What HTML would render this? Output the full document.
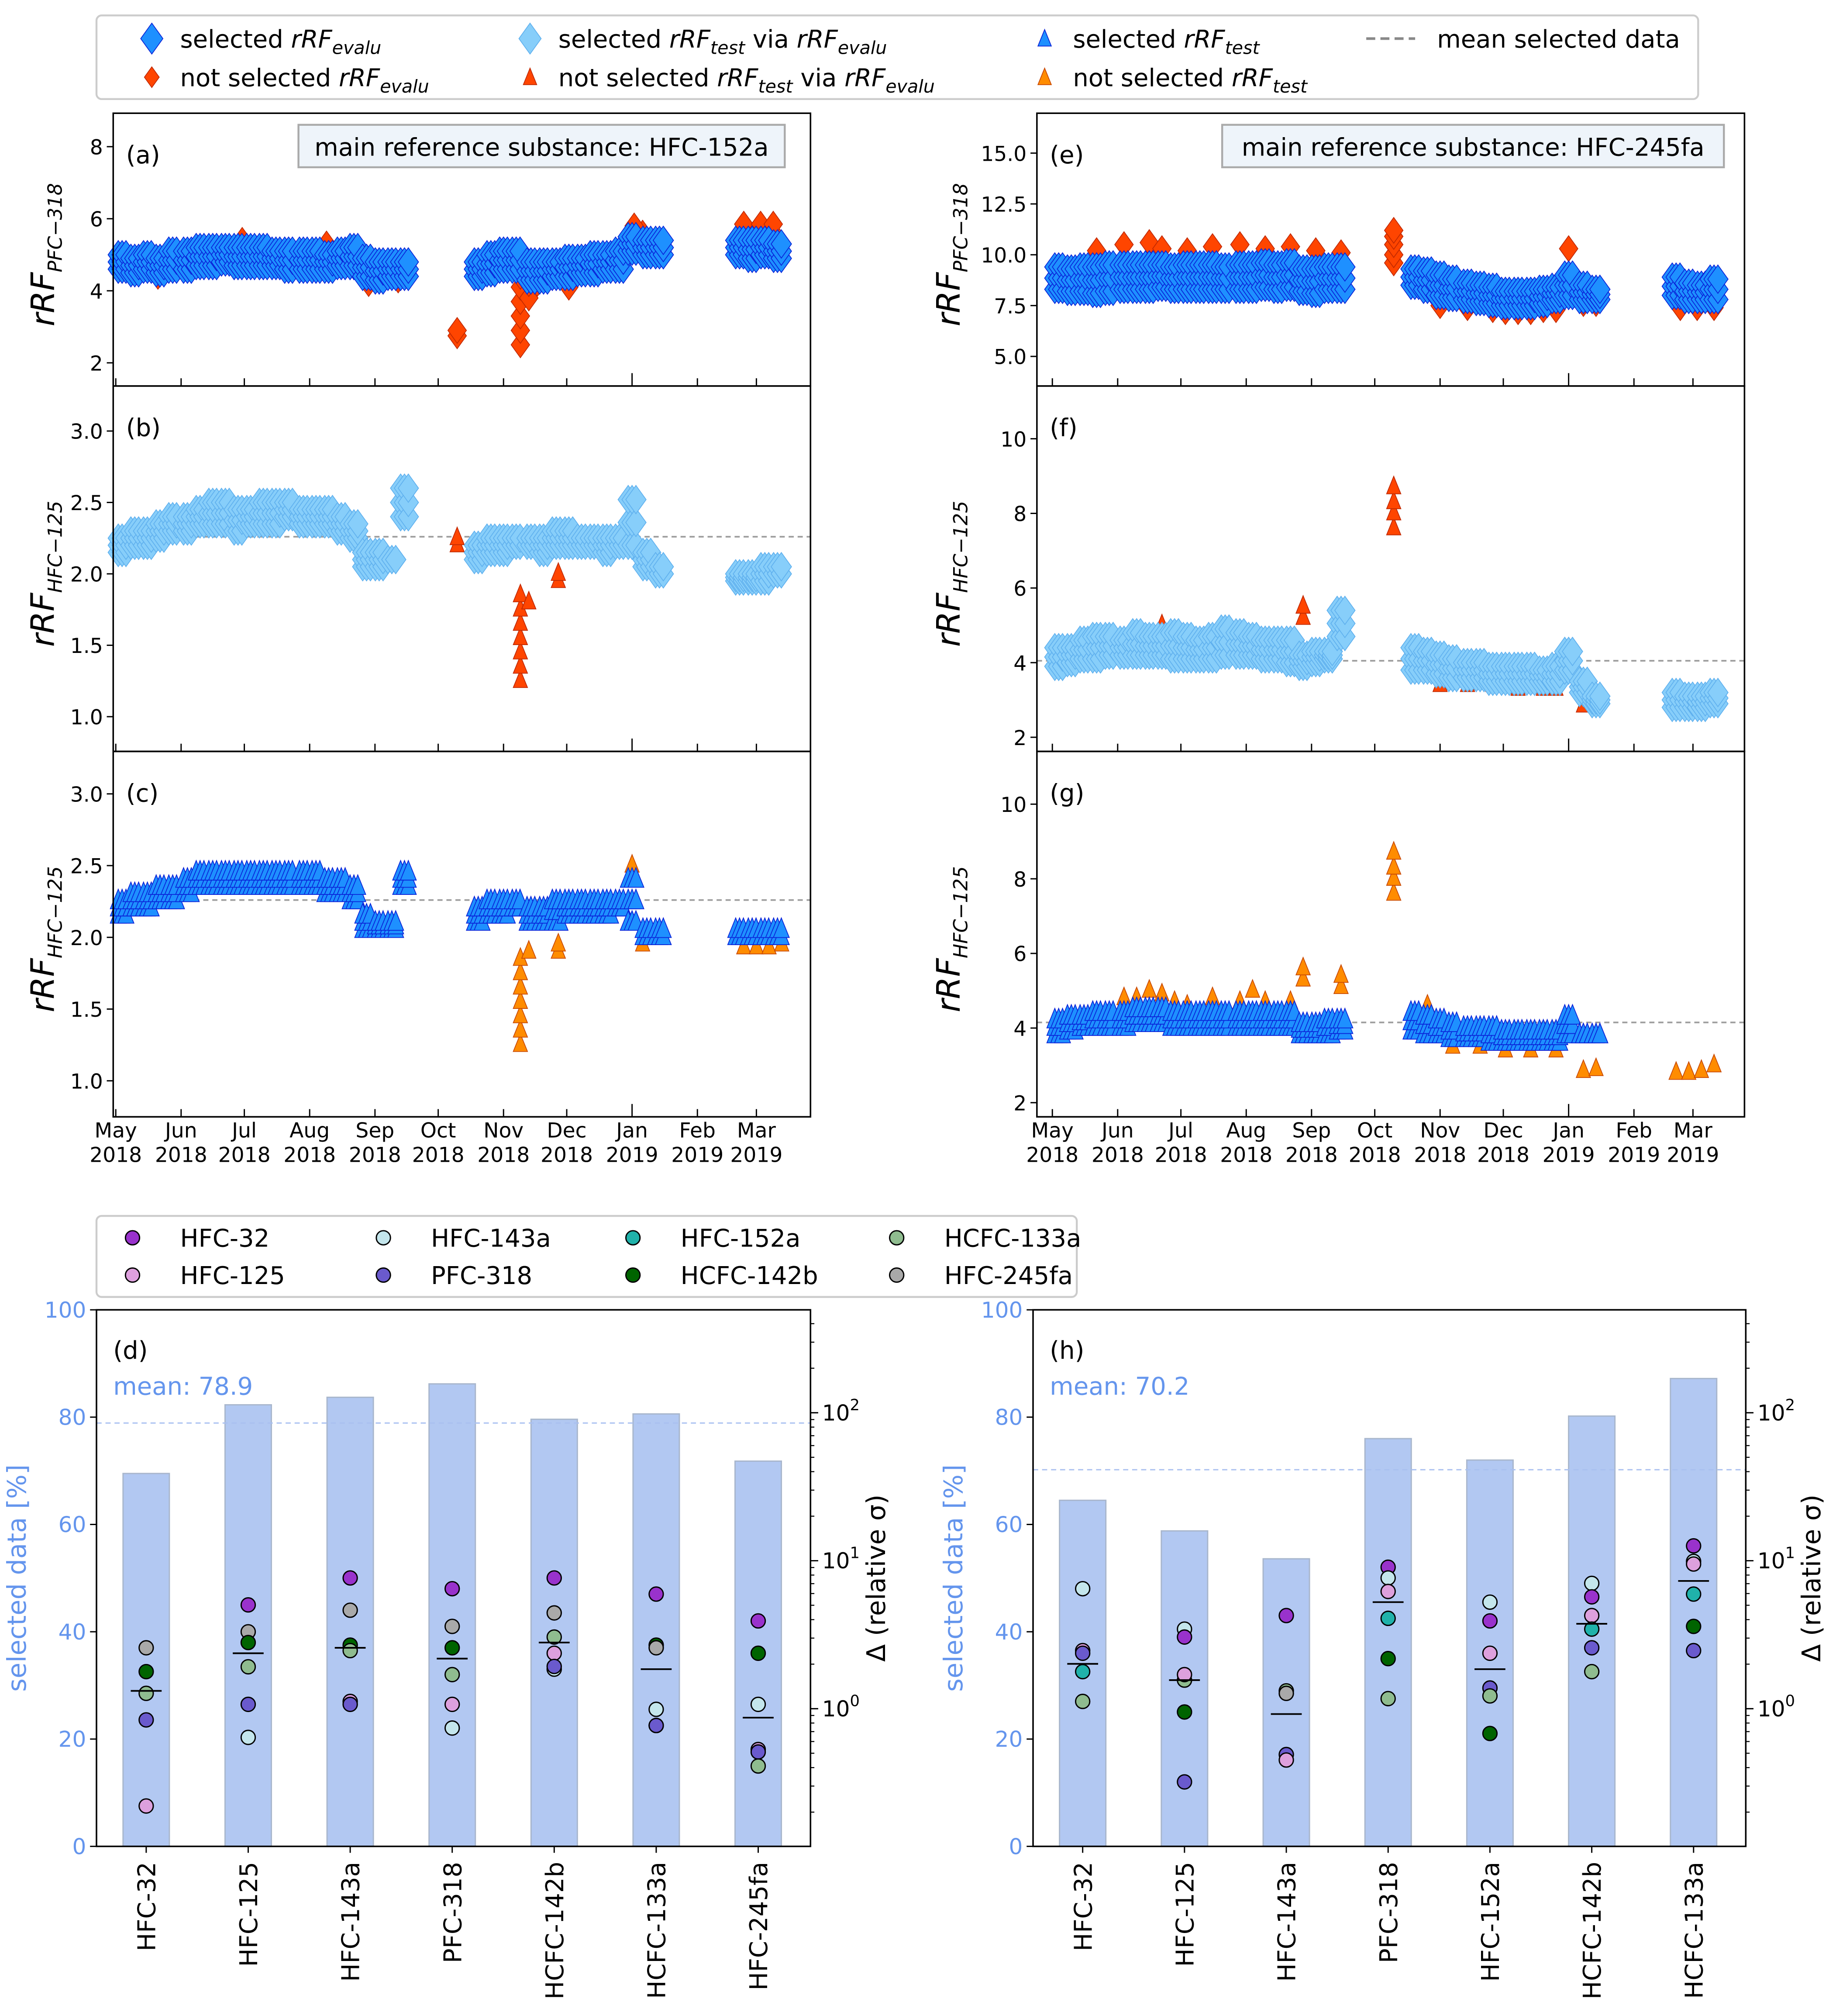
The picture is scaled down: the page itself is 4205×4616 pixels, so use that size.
<!DOCTYPE html>
<html><head><meta charset="utf-8"><style>
html,body{margin:0;padding:0;background:#fff}
svg{display:block}
text{font-family:"DejaVu Sans","Liberation Sans",sans-serif}
</style></head><body>
<svg id="fig" xmlns="http://www.w3.org/2000/svg" width="4205" height="4616" viewBox="0 0 1420 1559" preserveAspectRatio="none">
<rect x="0" y="0" width="1420" height="1559" fill="#fff"/>
<g id="layer" transform="scale(0.995)"></g>
</svg>
<script>
// ---------- data: top panels (day = days since 1 May 2018) ----------
const blkDays1=[3,9,15,21,27,34,40,46,52,58,64,70,76,82,89,95,101,107,113,119,125,131,137];
const blkDays2=[172,178,184,190,197,203,209,215,221,227,233,239,245,252,258];
const marDays=[296,302,308,314];
const monthLabels=["May","Jun","Jul","Aug","Sep","Oct","Nov","Dec","Jan","Feb","Mar"];
const yearLabels=["2018","2018","2018","2018","2018","2018","2018","2018","2019","2019","2019"];
const monthDays=[0,31,61,92,123,153,184,214,245,276,304];

// (a)
const aSel1=[[4.6,5.0],[4.5,4.9],[4.6,5.0],[4.5,4.9],[4.6,5.1],[4.6,5.1],[4.7,5.2],[4.7,5.2],[4.8,5.2],[4.7,5.2],[4.7,5.2],[4.7,5.2],[4.7,5.1],[4.6,5.1],[4.6,5.1],[4.6,5.1],[4.6,5.0],[4.7,5.1],[4.7,5.2],[4.4,4.9],[4.3,4.8],[4.4,4.8],[4.4,4.8]];
const aSel2=[[4.4,4.8],[4.5,5.0],[4.6,5.1],[4.6,5.1],[4.3,4.8],[4.3,4.8],[4.4,4.8],[4.4,4.9],[4.5,4.9],[4.5,5.0],[4.6,5.0],[4.6,5.1],[5.1,5.5],[5.0,5.4],[5.0,5.4]];
const aSelM=[[5.0,5.4],[4.9,5.4],[5.0,5.4],[4.9,5.3]];
const aNotDays=[162,162,192,192,192,192,192,192,196,196,200,20,120,134,60,100,215,250,246,298,298,306,306,312,312];
const aNotVals=[2.75,2.9,2.5,2.9,3.3,3.7,4.1,4.4,3.8,4.2,4.2,4.4,4.2,4.3,5.4,5.3,4.1,5.6,5.8,5.6,5.85,5.7,5.85,5.6,5.85];
// (b)
const bSel1=[[2.15,2.25],[2.2,2.3],[2.2,2.3],[2.25,2.35],[2.3,2.4],[2.3,2.4],[2.35,2.45],[2.35,2.5],[2.35,2.5],[2.3,2.45],[2.35,2.45],[2.35,2.5],[2.35,2.5],[2.4,2.5],[2.35,2.45],[2.35,2.45],[2.35,2.45],[2.3,2.4],[2.25,2.35],[2.05,2.15],[2.05,2.15],[2.1,2.1],[2.4,2.6]];
const bSel2=[[2.1,2.2],[2.15,2.25],[2.15,2.25],[2.2,2.25],[2.2,2.25],[2.15,2.25],[2.2,2.3],[2.2,2.3],[2.2,2.25],[2.2,2.25],[2.15,2.25],[2.2,2.25],[2.2,2.52],[2.05,2.15],[2.0,2.05]];
const bSelM=[[1.95,2.0],[1.95,2.0],[1.95,2.05],[2.0,2.05]];
const bNotDays=[162,162,192,192,192,192,192,192,192,196,210,210];
const bNotVals=[2.2,2.25,1.25,1.35,1.45,1.55,1.65,1.75,1.85,1.8,1.95,2.0];
// (c)
const cSel1=[[2.15,2.25],[2.2,2.3],[2.2,2.3],[2.25,2.35],[2.25,2.35],[2.3,2.4],[2.35,2.45],[2.35,2.45],[2.35,2.45],[2.35,2.45],[2.35,2.45],[2.35,2.45],[2.35,2.45],[2.35,2.45],[2.35,2.45],[2.35,2.45],[2.3,2.4],[2.3,2.4],[2.25,2.35],[2.05,2.15],[2.05,2.1],[2.05,2.1],[2.35,2.45]];
const cSel2=[[2.1,2.2],[2.15,2.25],[2.15,2.25],[2.2,2.25],[2.1,2.2],[2.1,2.2],[2.1,2.25],[2.15,2.25],[2.15,2.25],[2.15,2.25],[2.15,2.25],[2.2,2.25],[2.1,2.4],[2.0,2.05],[2.0,2.05]];
const cSelM=[[2.0,2.05],[2.0,2.05],[2.0,2.05],[2.0,2.05]];
const cNotDays=[192,192,192,192,192,192,192,196,210,210,245,250,298,304,310,316];
const cNotVals=[1.25,1.35,1.45,1.55,1.65,1.75,1.85,1.9,1.9,1.95,2.5,1.95,1.93,1.93,1.93,1.95];
// (e)
const eSel1=[[8.3,9.4],[8.2,9.3],[8.2,9.4],[8.1,9.4],[8.2,9.5],[8.3,9.5],[8.3,9.5],[8.3,9.5],[8.4,9.5],[8.3,9.4],[8.3,9.5],[8.3,9.5],[8.3,9.5],[8.3,9.4],[8.3,9.5],[8.3,9.5],[8.4,9.6],[8.3,9.5],[8.4,9.6],[8.2,9.3],[8.1,9.3],[8.3,9.4],[8.3,9.4]];
const eSel2=[[8.5,9.3],[8.3,9.2],[8.0,9.0],[7.9,8.8],[7.8,8.6],[7.7,8.5],[7.6,8.4],[7.5,8.2],[7.5,8.2],[7.5,8.2],[7.6,8.3],[7.8,8.4],[8.0,9.0],[7.8,8.5],[7.8,8.3]];
const eSelM=[[8.0,8.9],[7.8,8.6],[7.8,8.5],[7.8,8.8]];
const eNotDays=[21,34,46,52,64,76,89,101,113,125,137,162,162,162,162,162,184,197,209,215,221,227,233,239,245,252,258,298,306,314];
const eNotVals=[10.2,10.5,10.6,10.3,10.2,10.4,10.5,10.3,10.4,10.2,10.1,9.6,10.0,10.5,10.9,11.2,7.5,7.4,7.3,7.2,7.2,7.2,7.3,7.3,10.3,7.6,7.6,7.4,7.4,7.4];
// (f)
const fSel1=[[3.9,4.4],[4.0,4.4],[4.1,4.6],[4.1,4.7],[4.2,4.7],[4.2,4.6],[4.2,4.8],[4.2,4.7],[4.2,4.7],[4.1,4.8],[4.1,4.7],[4.1,4.6],[4.1,4.7],[4.2,4.9],[4.2,4.8],[4.2,4.7],[4.1,4.6],[4.1,4.6],[4.0,4.6],[3.9,4.2],[4.0,4.3],[4.1,4.3],[4.7,5.4]];
const fSel2=[[3.8,4.4],[3.8,4.3],[3.7,4.2],[3.6,4.1],[3.6,4.0],[3.6,4.0],[3.5,3.9],[3.5,3.9],[3.5,3.9],[3.5,3.9],[3.5,3.8],[3.5,3.9],[3.8,4.3],[3.2,3.5],[2.9,3.1]];
const fSelM=[[2.8,3.2],[2.8,3.1],[2.8,3.1],[2.9,3.2]];
const fNotDays=[52,52,119,119,162,162,162,162,184,197,209,221,233,239,252,258,298,306];
const fNotVals=[4.9,5.0,5.2,5.5,7.6,8.0,8.3,8.7,3.4,3.4,3.4,3.3,3.3,3.3,2.85,2.85,2.75,2.75];
// (g)
const gSel1=[[3.8,4.2],[3.9,4.3],[4.0,4.3],[4.0,4.4],[4.0,4.4],[4.0,4.4],[4.1,4.5],[4.1,4.5],[4.1,4.5],[4.0,4.4],[4.0,4.4],[4.0,4.4],[4.0,4.4],[4.0,4.4],[4.0,4.4],[4.0,4.4],[4.0,4.4],[4.0,4.4],[4.0,4.4],[3.8,4.1],[3.8,4.1],[3.8,4.2],[3.9,4.2]];
const gSel2=[[3.9,4.4],[3.8,4.3],[3.8,4.2],[3.7,4.1],[3.7,4.0],[3.7,4.0],[3.6,4.0],[3.6,3.9],[3.6,3.9],[3.6,3.9],[3.6,3.9],[3.6,3.9],[3.8,4.3],[3.8,3.8],[3.8,3.8]];
const gSelM=[];
const gNotDays=[34,40,46,52,58,64,76,89,95,101,113,119,119,137,137,162,162,162,162,178,190,203,215,227,239,252,258,296,302,308,314];
const gNotVals=[4.8,4.8,5.0,4.9,4.7,4.6,4.8,4.7,5.0,4.7,4.7,5.3,5.6,5.1,5.4,7.6,8.0,8.3,8.7,4.6,3.5,3.5,3.4,3.4,3.4,2.85,2.9,2.8,2.8,2.85,3.0];

// ---------- data: bottom panels ----------
const dCats=["HFC-32","HFC-125","HFC-143a","PFC-318","HCFC-142b","HCFC-133a","HFC-245fa"];
const dBars=[69.5,82.3,83.7,86.2,79.6,80.6,71.8];
const dMean=78.9;
const hCats=["HFC-32","HFC-125","HFC-143a","PFC-318","HFC-152a","HCFC-142b","HCFC-133a"];
const hBars=[64.5,58.8,53.6,76.0,72.0,80.2,87.2];
const hMean=70.2;
const subst=["HFC-32","HFC-125","HFC-143a","PFC-318","HFC-152a","HCFC-142b","HCFC-133a","HFC-245fa"];
const substColors=["#9932cc","#dda0dd","#c4e6ec","#6a5acd","#20b2aa","#006400","#8fbc8f","#a9a9a9"];
// dots: [category index, substance index, delta]
const dDots=[[0,7,2.58],[0,5,1.78],[0,6,1.27],[0,3,0.84],[0,1,0.22],
[1,0,5.03],[1,7,3.31],[1,5,2.80],[1,6,1.92],[1,3,1.07],[1,2,0.64],
[2,0,7.65],[2,7,4.63],[2,5,2.69],[2,6,2.47],[2,1,1.12],[2,3,1.07],
[3,0,6.47],[3,7,3.60],[3,5,2.58],[3,6,1.70],[3,1,1.07],[3,2,0.74],
[4,0,7.65],[4,7,4.44],[4,6,3.05],[4,1,2.37],[4,2,1.85],[4,3,1.93],
[5,0,5.95],[5,5,2.69],[5,7,2.58],[5,2,0.99],[5,1,0.77],[5,3,0.77],
[6,0,3.92],[6,5,2.37],[6,2,1.07],[6,1,0.53],[6,3,0.51],[6,6,0.41]];
const dMeans=[1.32,2.37,2.58,2.18,2.80,1.85,0.87];
const hDots=[[0,2,6.47],[0,1,2.47],[0,3,2.37],[0,4,1.78],[0,6,1.12],
[1,2,3.45],[1,0,3.05],[1,6,1.56],[1,1,1.70],[1,5,0.95],[1,3,0.32],
[2,0,4.26],[2,6,1.32],[2,7,1.27],[2,3,0.49],[2,1,0.45],
[3,0,9.04],[3,2,7.65],[3,1,6.20],[3,4,4.08],[3,5,2.18],[3,6,1.17],
[4,2,5.25],[4,0,3.92],[4,1,2.37],[4,3,1.38],[4,6,1.22],[4,5,0.68],
[5,2,7.03],[5,1,4.26],[5,0,5.70],[5,4,3.45],[5,3,2.58],[5,6,1.78],
[6,0,12.6],[6,2,9.9],[6,1,9.5],[6,4,5.95],[6,5,3.60],[6,3,2.47]];
const hMeans=[2.01,1.56,0.92,5.25,1.85,3.75,7.3];

// ---------- drawing ----------
const NS="http://www.w3.org/2000/svg";
const L=document.getElementById('layer');
function mk(tag,attrs,parent){const e=document.createElementNS(NS,tag);for(const k in attrs)e.setAttribute(k,attrs[k]);(parent||L).appendChild(e);return e;}
function txt(x,y,s,size,opts,parent){opts=opts||{};const e=mk('text',{x:x,y:y,'font-size':size,fill:opts.fill||'#000','text-anchor':opts.anchor||'start'},parent);if(opts.rot)e.setAttribute('transform','rotate('+opts.rot+' '+x+' '+y+')');e.textContent=s;return e;}

const C={selE:['#1e90ff','#0a22d8'],notE:['#ff4500','#c02800'],selT:['#87cefa','#5fb0ee'],notT:['#ff8c00','#c84800']};
function diamond(cx,cy,r,c,g){return mk('path',{d:`M${cx} ${cy-r}L${cx+r*0.72} ${cy}L${cx} ${cy+r}L${cx-r*0.72} ${cy}Z`,fill:c[0],stroke:c[1],'stroke-width':0.6},g);}
function tri(cx,cy,r,c,g){return mk('path',{d:`M${cx} ${cy-r}L${cx+r*0.65} ${cy+r*0.6}L${cx-r*0.65} ${cy+r*0.6}Z`,fill:c[0],stroke:c[1],'stroke-width':0.6},g);}

const PX=[{x0:88,x1:630,dx:90},{x0:806,x1:1356,dx:818}];
const PY=[{y0:88,y1:300},{y0:300,y1:584},{y0:584,y1:868}];
const DPX=1.638;

function panel(col,row,label,yfun,ticks,ylabelSub,opts){
  const P=PX[col],R=PY[row];
  const g=mk('g',{});
  
  
  const xd=d=>P.dx+d*DPX;
  ticks.forEach(t=>{const y=yfun(t);mk('line',{x1:P.x0-5,y1:y,x2:P.x0,y2:y,stroke:'#000','stroke-width':1},g);
    const tl=txt(P.x0-8,y+6,String(opts.fmt?t.toFixed(opts.fmt):t),16,{anchor:'end'},g);
    });
  monthDays.forEach((d,i)=>{const x=xd(d);const len=(i===8)?10:6;mk('line',{x1:x,y1:R.y1,x2:x,y2:R.y1-len,stroke:'#000','stroke-width':1},g);});
  if(opts.mean!==undefined){const ml=mk('line',{x1:P.x0,x2:P.x1,y1:yfun(opts.mean),y2:yfun(opts.mean),stroke:'#a0a0a0','stroke-width':1.3,'stroke-dasharray':'4,3'},g);
    }
  const shape=opts.tri?tri:diamond;
  const nshape=(opts.tri||opts.triNot)?tri:diamond;
  opts.notDays.forEach((d,i)=>{const m=nshape(xd(d),yfun(opts.notVals[i]),(opts.tri||opts.triNot)?8.5:10,opts.notC,g);
    });
  [[blkDays1,opts.s1],[blkDays2,opts.s2],[marDays,opts.sm]].forEach(([days,vals])=>{
    vals.forEach((pr,i)=>{
      const d=days[i];
      [-3,0,3].forEach(off=>{
        [pr[0],(pr[0]+pr[1])/2,pr[1]].forEach((v,k)=>{
          if(k===1&&pr[1]-pr[0]<0.05)return;
          const m=shape(xd(d)+off,yfun(v),opts.tri?9.5:11,opts.selC,g);
          });
      });
    });
  });
  mk('rect',{x:P.x0,y:R.y0,width:P.x1-P.x0,height:R.y1-R.y0,fill:'none',stroke:'#000','stroke-width':1.2},g);
  const pl=txt(P.x0+10,R.y0+39,'('+label+')',19,{},g);
  const cx=col===0?42:746, cy=(R.y0+R.y1)/2+4;
  const yl=mk('text',{x:cx,y:cy,'font-size':25,'text-anchor':'middle',transform:`rotate(-90 ${cx} ${cy})`,'font-style':'italic'},g);
  
  const t1=mk('tspan',{},yl);t1.textContent='rRF';
  const t2=mk('tspan',{'font-size':15,dy:6},yl);t2.textContent=ylabelSub;
  if(opts.box){const b=mk('rect',{x:opts.box[0],y:R.y0+9,width:opts.box[1],height:33,fill:'#eef4fa',stroke:'#aaa','stroke-width':1.5},g);
    
    txt(opts.box[0]+opts.box[1]/2,R.y0+33,opts.box[2],19,{anchor:'middle'},g);}
  if(opts.dates){monthLabels.forEach((m,i)=>{const x=xd(monthDays[i]);
    const a=txt(x,884,m,16,{anchor:'middle'},g);
    txt(x,903,yearLabels[i],16,{anchor:'middle'},g);});}
}

const ya=v=>114+(8-v)*28, yb=v=>335+(3-v)*111, yc=v=>617+(3-v)*111.5;
const ye=v=>119+(15-v)*15.8, yf=v=>341+(10-v)*29, yg=v=>625+(10-v)*29;
panel(0,0,'a',ya,[2,4,6,8],'PFC−318',{s1:aSel1,s2:aSel2,sm:aSelM,notDays:aNotDays,notVals:aNotVals,selC:C.selE,notC:C.notE,box:[232,378,'main reference substance: HFC-152a']});
panel(0,1,'b',yb,[1.0,1.5,2.0,2.5,3.0],'HFC−125',{fmt:1,mean:2.26,s1:bSel1,s2:bSel2,sm:bSelM,notDays:bNotDays,notVals:bNotVals,selC:C.selT,notC:C.notE,triNot:true});
panel(0,2,'c',yc,[1.0,1.5,2.0,2.5,3.0],'HFC−125',{fmt:1,mean:2.26,tri:true,s1:cSel1,s2:cSel2,sm:cSelM,notDays:cNotDays,notVals:cNotVals,selC:C.selE,notC:C.notT,dates:true});
panel(1,0,'e',ye,[5,7.5,10,12.5,15],'PFC−318',{fmt:1,s1:eSel1,s2:eSel2,sm:eSelM,notDays:eNotDays,notVals:eNotVals,selC:C.selE,notC:C.notE,box:[950,390,'main reference substance: HFC-245fa']});
panel(1,1,'f',yf,[2,4,6,8,10],'HFC−125',{mean:4.05,s1:fSel1,s2:fSel2,sm:fSelM,notDays:fNotDays,notVals:fNotVals,selC:C.selT,notC:C.notE,triNot:true});
panel(1,2,'g',yg,[2,4,6,8,10],'HFC−125',{mean:4.15,tri:true,s1:gSel1,s2:gSel2,sm:gSelM,notDays:gNotDays,notVals:gNotVals,selC:C.selE,notC:C.notT,dates:true});

// top legend
(function(){
  const g=mk('g',{});
  mk('rect',{x:75,y:12,width:1245,height:65,rx:4,fill:'#fff',stroke:'#ccc','stroke-width':1.5},g);
  const items=[[118,30,'d',C.selE,'selected ','evalu',''],[118,60,'ds',C.notE,'not selected ','evalu',''],
    [412,30,'d',C.selT,'selected ','test',' via '],[412,60,'t',C.notE,'not selected ','test',' via '],
    [812,30,'t',C.selE,'selected ','test',''],[812,60,'t',C.notT,'not selected ','test','']];
  items.forEach(it=>{
    const [x,y,s,c,pre,sub,via]=it;
    if(s==='d')diamond(x,y,12,c,g);else if(s==='ds')diamond(x,y,8,c,g);else tri(x,y+1,8,c,g);
    const t=mk('text',{x:x+22,y:y+7,'font-size':19},g);
    
    const a=mk('tspan',{},t);a.textContent=pre;
    const b=mk('tspan',{'font-style':'italic'},t);b.textContent='rRF';
    const cc=mk('tspan',{'font-style':'italic','font-size':14,dy:5},t);cc.textContent=sub;
    if(via){const d=mk('tspan',{dy:-5},t);d.textContent=via;const e=mk('tspan',{'font-style':'italic'},t);e.textContent='rRF';const f=mk('tspan',{'font-style':'italic','font-size':14,dy:5},t);f.textContent='evalu';}
  });
  mk('line',{x1:1062,x2:1100,y1:30,y2:30,stroke:'#888','stroke-width':2,'stroke-dasharray':'7,4'},g);
  const t=txt(1117,37,'mean selected data',19,{},g);
})();

// bottom legend
(function(){
  const g=mk('g',{});
  mk('rect',{x:75,y:945,width:762,height:63,rx:4,fill:'#fff',stroke:'#ccc','stroke-width':1.5},g);
  const order=[[0,103,962],[1,103,991],[2,298,962],[3,298,991],[4,492,962],[5,492,991],[6,697,962],[7,697,991]];
  order.forEach(([i,x,y])=>{
    mk('circle',{cx:x,cy:y,r:5.5,fill:substColors[i],stroke:'#000','stroke-width':1},g);
    const t=txt(x+37,y+7,subst[i],19,{},g);
  });
})();

function barPanel(x0,x1,label,cats,bars,mean,dots,means,meanLabel){
  const y0=1018,y1=1435;
  const g=mk('g',{});
  const yp=p=>y1-p*(y1-y0)/100;
  const yl=v=>1328-115*Math.log10(v);
  const step=(x1-x0)/cats.length;
  const xc=i=>x0+step*(i+0.5)-1;
  cats.forEach((c,i)=>{
    const b=mk('rect',{x:xc(i)-18,y:yp(bars[i]),width:36,height:y1-yp(bars[i]),fill:'#b2c8f2',stroke:'#a8b6cc','stroke-width':1},g);
    
    mk('line',{x1:xc(i),x2:xc(i),y1:y1,y2:y1+5,stroke:'#000'},g);
    const t=txt(xc(i)+7,y1+12,c,19,{anchor:'end',rot:-90},g);
  });
  const ml=mk('line',{x1:x0,x2:x1,y1:yp(mean),y2:yp(mean),stroke:'#a9c0f0','stroke-width':1,'stroke-dasharray':'4,3'},g);
  
  dots.forEach(([ci,si,v])=>{const c=mk('circle',{cx:xc(ci),cy:yl(v),r:5.5,fill:substColors[si],stroke:'#000','stroke-width':1},g);
    });
  means.forEach((v,i)=>{const m=mk('line',{x1:xc(i)-12,x2:xc(i)+12,y1:yl(v),y2:yl(v),stroke:'#000','stroke-width':1.3},g);
    });
  mk('rect',{x:x0,y:y0,width:x1-x0,height:y1-y0,fill:'none',stroke:'#000','stroke-width':1.2},g);
  [0,20,40,60,80,100].forEach(p=>{mk('line',{x1:x0-5,x2:x0,y1:yp(p),y2:yp(p),stroke:'#000'},g);
    const t=txt(x0-8,yp(p)+6,String(p),17,{anchor:'end',fill:'#6495ed'},g);});
  for(let e=-1;e<=2;e++){for(let k=1;k<10;k++){const v=k*Math.pow(10,e);const y=yl(v);if(y<y0||y>y1)continue;
    mk('line',{x1:x1,x2:x1+(k===1?6:3),y1:y,y2:y,stroke:'#000','stroke-width':k===1?1:0.8},g);}}
  [0,1,2].forEach(e=>{const y=yl(Math.pow(10,e));const t=mk('text',{x:x1+9,y:y+6,'font-size':17},g);
    
    const a=mk('tspan',{},t);a.textContent='10';const b=mk('tspan',{'font-size':12,dy:-8},t);b.textContent=String(e);});
  txt(x0+13,y0+38,'('+label+')',19,{},g);
  const mt=txt(x0+13,y0+66,meanLabel,19,{fill:'#6495ed'},g);
  const lx=x0-55,ly=(y0+y1)/2;
  const a=txt(lx,ly,'selected data [%]',20,{anchor:'middle',fill:'#6495ed',rot:-90},g);
  const rx=x1+58;
  const r=txt(rx,ly,'Δ (relative σ)',20,{anchor:'middle',rot:-90},g);
}
barPanel(75,630,'d',dCats,dBars,dMean,dDots,dMeans,'mean:  78.9');
barPanel(803,1357,'h',hCats,hBars,hMean,hDots,hMeans,'mean:  70.2');
</script>
</body></html>
